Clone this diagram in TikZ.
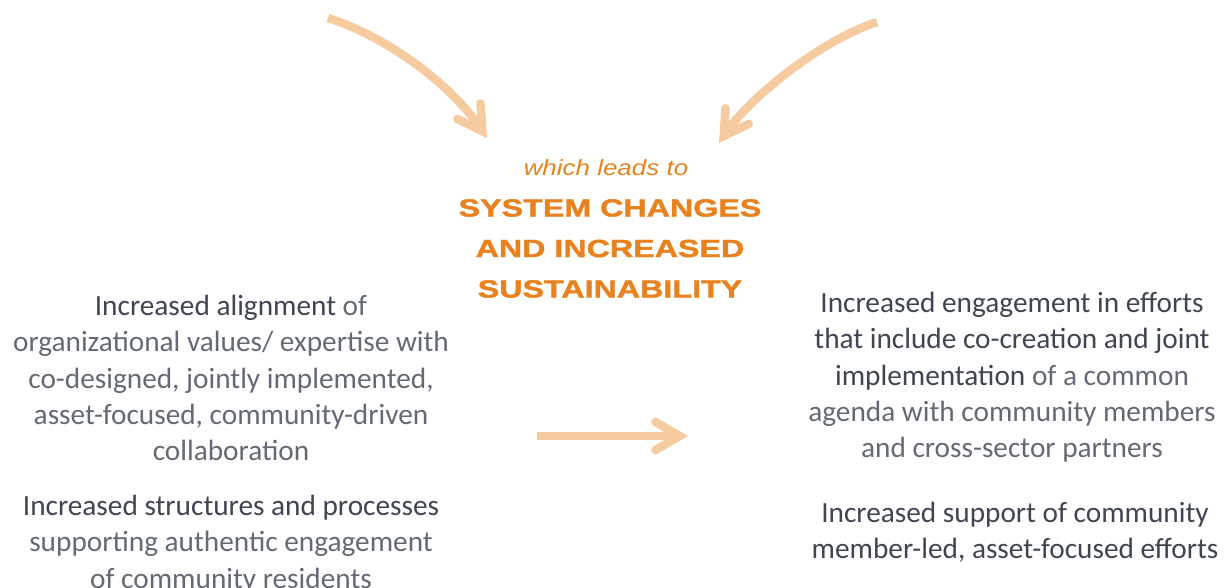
\documentclass[tikz,border=0pt]{standalone}
\usepackage{fontspec}
\setmainfont{Carlito}
\newfontfamily\headfont[FakeStretch=1.3,FakeBold=1.6]{Liberation Sans}
\newfontfamily\leadfont[FakeStretch=1.18]{Liberation Sans}
\usetikzlibrary{arrows.meta}
\definecolor{peach}{HTML}{F6CBA0}
\definecolor{deeporange}{HTML}{E8821F}
\definecolor{darkgrey}{HTML}{3F4651}
\definecolor{softgrey}{HTML}{646A73}
\tikzset{
  bigarrow/.style={line width=8.5pt, peach,
    -{Straight Barb[length=24pt,width=28pt,line cap=round,line join=miter]}},
  outcome/.style={align=center, inner sep=0pt, softgrey,
    font=\fontsize{29.3}{36.3}\selectfont},
  headline/.style={align=center, inner sep=0pt, deeporange,
    font=\headfont\bfseries\fontsize{24.8}{40.5}\selectfont}
}
\newcommand{\keyphrase}[1]{\textcolor{darkgrey}{#1}}

\begin{document}
\begin{tikzpicture}[x=1pt,y=-1pt]
  \useasboundingbox (0,0) rectangle (1228,588);
  % centre text
  \node[deeporange,inner sep=0pt,font=\leadfont\itshape\fontsize{22}{26}\selectfont] (leads) at (606,168) {which leads to};
  \node[headline,anchor=north] (goal) at (610,199) {SYSTEM CHANGES\\AND INCREASED\\SUSTAINABILITY};
  % left outcomes
  \node[outcome,anchor=north] (align) at (231,295) {\keyphrase{Increased alignment} of\\organizational values/ expertise with\\co-designed, jointly implemented,\\asset-focused, community-driven\\collaboration};
  \node[outcome,anchor=north] (struct) at (231,495) {\keyphrase{Increased structures and processes}\\supporting authentic engagement\\of community residents};
  % right outcomes
  \node[outcome,anchor=north] (engage) at (1012,292) {\keyphrase{Increased engagement in efforts}\\\keyphrase{that include co-creation and joint}\\\keyphrase{implementation} of a common\\agenda with community members\\and cross-sector partners};
  \node[outcome,anchor=north,darkgrey] (support) at (1015,502) {Increased support of community\\member-led, asset-focused efforts};
  % arrows
  \coordinate (lstart) at (328,18);
  \coordinate (ltip) at (487,138);
  \coordinate (rstart) at (877,22);
  \coordinate (rtip) at (719,143);
  \coordinate (mstart) at (537,436);
  \coordinate (mtip) at (688,436);
  \draw[bigarrow] (lstart) .. controls (390,38) and (452,86) .. (ltip);
  \draw[bigarrow] (rstart) .. controls (817,42) and (748,100) .. (rtip);
  \draw[bigarrow] (mstart) -- (mtip);
\end{tikzpicture}
\end{document}
